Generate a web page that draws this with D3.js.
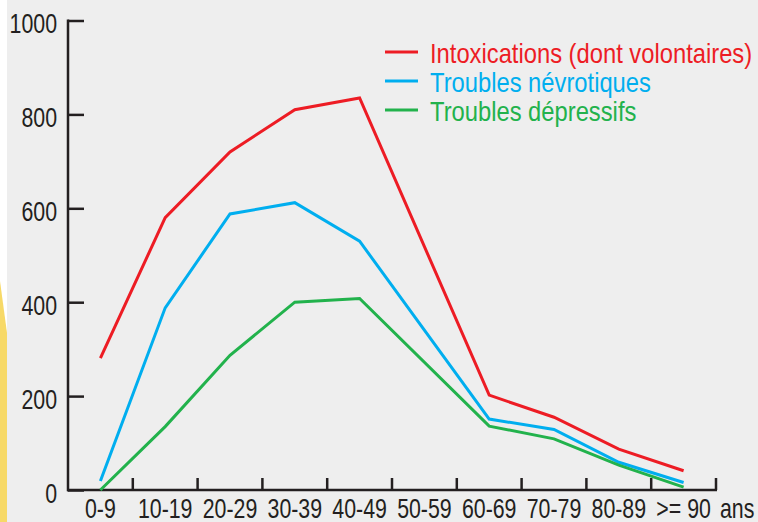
<!DOCTYPE html>
<html>
<head>
<meta charset="utf-8">
<script src="https://cdn.jsdelivr.net/npm/d3@7"></script>
<style>
  html, body { margin: 0; padding: 0; background: #fff; }
  svg { display: block; }
  text { font-family: "Liberation Sans", Arial, sans-serif; fill: #231f20; }
</style>
</head>
<body>
<div id="chart"></div>
<script>
// categories (age groups) and values
var ages = ["0-9", "10-19", "20-29", "30-39", "40-49", "50-59", "60-69", "70-79", "80-89", ">= 90"];
// 50-59 has no point in the figure: the line runs straight from 40-49 to 60-69
var intoxications = [281, 580, 720, 810, 835, null, 202, 155, 87, 41];
var nevrotiques   = [19, 388, 588, 612, 530, null, 151, 129, 59, 16];
var depressifs    = [0, 135, 287, 400, 408, null, 136, 109, 53, 6];
var yTicks = [0, 200, 400, 600, 800, 1000];

var seriesNames = ["Intoxications (dont volontaires)", "Troubles névrotiques", "Troubles dépressifs"];
var seriesColors = ["#ed1c24", "#00aeef", "#22b24c"];
var seriesValues = [intoxications, nevrotiques, depressifs];

var W = 758, H = 522;
var FS = 27; // condensed look: squeeze the text horizontally
var svg = d3.select("#chart").append("svg").attr("width", W).attr("height", H);

function narrow(sel, px, py, sx) {
  sel.attr("x", 0).attr("y", 0).attr("font-size", FS)
    .attr("transform", function(d, i) {
      return "translate(" + px(d, i) + "," + py(d, i) + ") scale(" + sx + ",1)";
    });
  return sel;
}

// background: white strip + yellow shape on left, grey panel
svg.append("rect").attr("x", 0).attr("y", 0).attr("width", W).attr("height", H).attr("fill", "#ffffff");
svg.append("path").attr("d", "M0,281 L7,333 L7,522 L0,522 Z").attr("fill", "#f7d967");
svg.append("rect").attr("x", 7).attr("y", 0).attr("width", W - 7).attr("height", H).attr("fill", "#eeeeee");

var x = d3.scaleBand().domain(ages).range([68, 716]).padding(0);
var y = d3.scaleLinear().domain([0, 1000]).range([490, 20.5]);
function cx(a) { return x(a) + x.bandwidth() / 2; }

// y axis
var yAxis = svg.append("g").attr("transform", "translate(68,0)")
  .call(d3.axisLeft(y).tickValues(yTicks).tickSize(-16).tickSizeOuter(0).tickFormat(d3.format("d")));
yAxis.select(".domain").remove();
yAxis.selectAll("line").attr("stroke", "#231f20").attr("stroke-width", 2.5);
yAxis.selectAll("text").remove();
narrow(svg.selectAll(".ylab").data(yTicks).enter().append("text").attr("class", "ylab")
  .attr("text-anchor", "end").text(function(d) { return d; }),
  function() { return 57; }, function(d) { return y(d) + 12.5; }, 0.79);
svg.append("line").attr("x1", 68).attr("x2", 68).attr("y1", y(1000) - 1).attr("y2", y(0) + 1.2)
  .attr("stroke", "#231f20").attr("stroke-width", 2.5);

// x axis: ticks on band edges, labels in band centres
svg.append("line").attr("x1", 67).attr("x2", 717).attr("y1", y(0)).attr("y2", y(0))
  .attr("stroke", "#231f20").attr("stroke-width", 2.5);
svg.selectAll(".xtick").data(ages).enter().append("line")
  .attr("class", "xtick")
  .attr("x1", function(d) { return x(d) + x.bandwidth(); })
  .attr("x2", function(d) { return x(d) + x.bandwidth(); })
  .attr("y1", y(0)).attr("y2", y(0) - 12)
  .attr("stroke", "#231f20").attr("stroke-width", 2.5);
narrow(svg.selectAll(".xlab").data(ages).enter().append("text").attr("class", "xlab")
  .attr("text-anchor", "middle").text(function(d) { return d; }),
  function(d) { return cx(d); }, function() { return 518; }, 0.79);
narrow(svg.append("text").datum("ans").text("ans"),
  function() { return 720; }, function() { return 518; }, 0.79);

// lines
var line = d3.line()
  .x(function(d) { return cx(d.age); })
  .y(function(d) { return y(d.v); })
  .curve(d3.curveLinear);

seriesValues.forEach(function(vals, i) {
  var pts = ages.map(function(a, j) { return { age: a, v: vals[j] }; })
    .filter(function(d) { return d.v !== null; });
  svg.append("path").datum(pts)
    .attr("d", line)
    .attr("fill", "none")
    .attr("stroke", seriesColors[i])
    .attr("stroke-width", 3)
    .attr("stroke-linejoin", "miter");
});

// legend
var legend = svg.selectAll(".leg").data(seriesNames).enter().append("g")
  .attr("class", "leg")
  .attr("transform", function(d, i) { return "translate(385," + (52 + i * 29) + ")"; });
legend.append("line").attr("x1", 0).attr("x2", 33).attr("y1", 0).attr("y2", 0)
  .attr("stroke", function(d, i) { return seriesColors[i]; }).attr("stroke-width", 3);
narrow(legend.append("text")
  .style("fill", function(d, i) { return seriesColors[i]; })
  .text(function(d) { return d; }),
  function() { return 45; }, function() { return 11; }, 0.88);
</script>
</body>
</html>
